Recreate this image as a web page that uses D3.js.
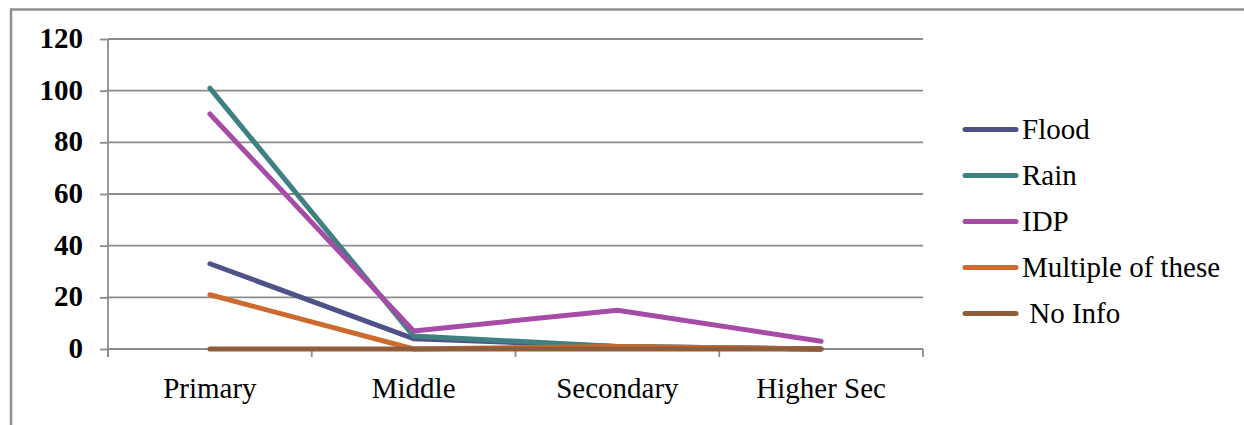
<!DOCTYPE html>
<html>
<head>
<meta charset="utf-8">
<script src="https://cdn.jsdelivr.net/npm/d3@7"></script>
<style>
  html, body { margin: 0; padding: 0; background: #fff; }
  svg { display: block; }
</style>
</head>
<body>
<svg id="chart" width="1244" height="425"></svg>
<script>
const categories = ["Primary", "Middle", "Secondary", "Higher Sec"];
const seriesNames = ["Flood", "Rain", "IDP", "Multiple of these", "\u00A0No Info"];
const flood = [33, 4, 1, 0];
const rain = [101, 5, 1, 0];
const idp = [91, 7, 15, 3];
const multiple = [21, 0, 1, 0];
const noInfo = [0, 0, 0, 0];
const yTicks = [0, 20, 40, 60, 80, 100, 120];
const colors = ["#4F5189", "#3F8182", "#A64CA6", "#CC6A30", "#8E5D3C"];

const FONT = "Liberation Serif";

const series = [flood, rain, idp, multiple, noInfo].map((vals, i) => ({
  name: seriesNames[i], color: colors[i],
  values: vals.map((v, j) => ({ cat: categories[j], v }))
}));

const svg = d3.select("#chart");

// outer frame
svg.append("rect")
  .attr("x", 11).attr("y", 9.5)
  .attr("width", 1400).attr("height", 600)
  .attr("fill", "none").attr("stroke", "#8f8f8f").attr("stroke-width", 2.5);

const x = d3.scaleBand().domain(categories).range([108, 923]).padding(0);
const y = d3.scaleLinear().domain([0, 120]).range([349, 39]);

const gridColor = "#8c8c8c";

// gridlines
svg.append("g").selectAll("line")
  .data(yTicks.filter(d => d > 0))
  .join("line")
  .attr("x1", 108).attr("x2", 923)
  .attr("y1", d => y(d)).attr("y2", d => y(d))
  .attr("stroke", gridColor).attr("stroke-width", 1.8);

// y axis ticks
const yAxis = svg.append("g")
  .attr("transform", "translate(108,0)")
  .call(d3.axisLeft(y).tickValues(yTicks).tickSize(8).tickFormat(""));
yAxis.select(".domain").remove();
yAxis.selectAll(".tick text").remove();
yAxis.selectAll(".tick line").attr("stroke", gridColor).attr("stroke-width", 1.8);
yAxis.append("line")
  .attr("x1", 0).attr("x2", 0).attr("y1", y(120)).attr("y2", y(0) + 8)
  .attr("stroke", gridColor).attr("stroke-width", 1.8);

yTicks.forEach(t => {
  svg.append("text")
    .attr("x", 83).attr("y", y(t) + 9)
    .attr("text-anchor", "end")
    .style("font-family", FONT)
    .attr("font-size", 29)
    .attr("font-weight", "bold")
    .text(d3.format("d")(t));
});

// x axis
svg.append("line")
  .attr("x1", 108).attr("x2", 923).attr("y1", y(0)).attr("y2", y(0))
  .attr("stroke", gridColor).attr("stroke-width", 1.8);
const edges = categories.map(c => x(c)).concat([x(categories[categories.length - 1]) + x.bandwidth()]);
edges.forEach(e => {
  svg.append("line")
    .attr("x1", e).attr("x2", e).attr("y1", y(0)).attr("y2", y(0) + 8)
    .attr("stroke", gridColor).attr("stroke-width", 1.8);
});
categories.forEach(c => {
  svg.append("text")
    .attr("x", x(c) + x.bandwidth() / 2)
    .attr("y", 398)
    .attr("text-anchor", "middle")
    .style("font-family", FONT)
    .attr("font-size", 29)
    .text(c);
});

// lines
const line = d3.line()
  .x(d => x(d.cat) + x.bandwidth() / 2)
  .y(d => y(d.v));

series.forEach(s => {
  svg.append("path")
    .attr("d", line(s.values))
    .attr("fill", "none")
    .attr("stroke", s.color)
    .attr("stroke-width", 5)
    .attr("stroke-linejoin", "round")
    .attr("stroke-linecap", "round");
});

// legend
series.forEach((s, i) => {
  const ry = 129.5 + i * 46;
  svg.append("line")
    .attr("x1", 965).attr("x2", 1016).attr("y1", ry).attr("y2", ry)
    .attr("stroke", s.color).attr("stroke-width", 5).attr("stroke-linecap", "round");
  svg.append("text")
    .attr("x", 1022).attr("y", ry + 9)
    .style("font-family", FONT)
    .attr("font-size", 29)
    .text(s.name);
});
</script>
</body>
</html>
